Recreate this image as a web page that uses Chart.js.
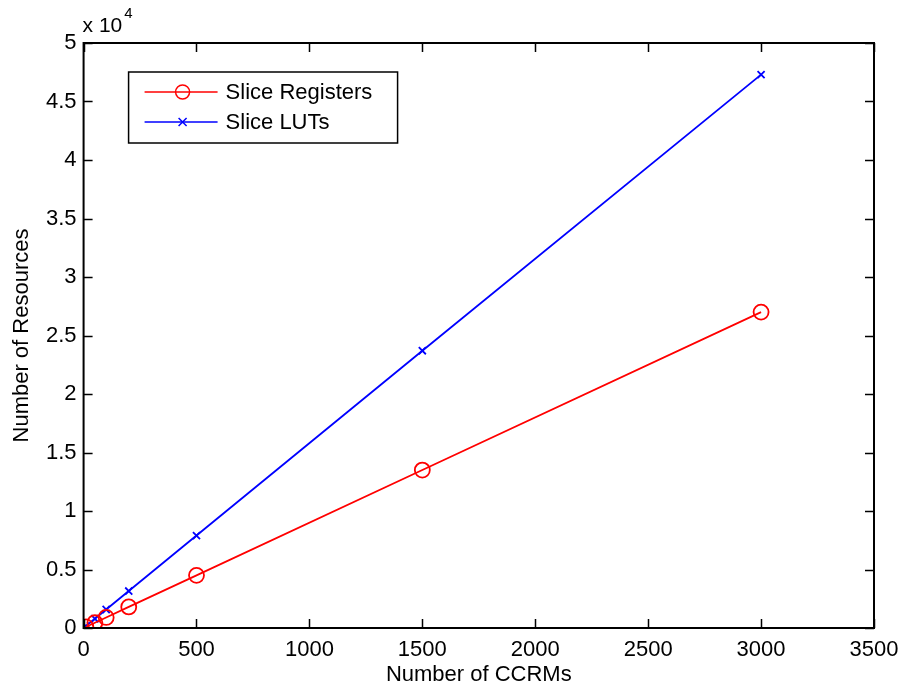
<!DOCTYPE html>
<html>
<head>
<meta charset="utf-8">
<script src="https://cdn.jsdelivr.net/npm/chart.js@4"></script>
<style>
  html, body { margin: 0; padding: 0; background: #fff; }
  #wrap { width: 900px; height: 688px; }
</style>
</head>
<body>
<div id="wrap"><canvas id="c"></canvas></div>
<script>
// CCRM counts and resource usage
const ccrms = [10, 50, 100, 200, 500, 1500, 3000];
const sliceRegisters = [90, 450, 900, 1800, 4500, 13500, 27000];
const sliceLUTs = [158, 790, 1580, 3160, 7900, 23700, 47300];

const xTicks = [0, 500, 1000, 1500, 2000, 2500, 3000, 3500];
const yTicks = [0, 5000, 10000, 15000, 20000, 25000, 30000, 35000, 40000, 45000, 50000];

const FONT = 'Liberation Sans, Arial, sans-serif';
const FS = 22;

function toPoints(xs, ys) {
  return xs.map((x, i) => ({ x: x, y: ys[i] }));
}

// matlab style: closed box, ticks pointing inward, legend box, x10^4 multiplier
const matlabFrame = {
  id: 'matlabFrame',
  afterDraw(chart) {
    const ctx = chart.ctx;
    const a = chart.chartArea;
    const xs = chart.scales.x, ys = chart.scales.y;
    const tl = 9;
    ctx.save();
    ctx.strokeStyle = '#000';
    ctx.lineWidth = 2;
    ctx.strokeRect(a.left, a.top, a.right - a.left, a.bottom - a.top);
    ctx.lineWidth = 1.5;
    ctx.beginPath();
    xTicks.forEach(v => {
      const p = Math.round(xs.getPixelForValue(v)) + 0.5;
      ctx.moveTo(p, a.bottom); ctx.lineTo(p, a.bottom - tl);
      ctx.moveTo(p, a.top); ctx.lineTo(p, a.top + tl);
    });
    yTicks.forEach(v => {
      const p = Math.round(ys.getPixelForValue(v)) + 0.5;
      ctx.moveTo(a.left, p); ctx.lineTo(a.left + tl, p);
      ctx.moveTo(a.right, p); ctx.lineTo(a.right - tl, p);
    });
    ctx.stroke();

    // exponent label
    ctx.fillStyle = '#000';
    ctx.font = '21px ' + FONT;
    ctx.textBaseline = 'alphabetic';
    ctx.textAlign = 'left';
    ctx.fillText('x 10', a.left - 1, a.top - 11);
    const w = ctx.measureText('x 10').width;
    ctx.font = '15px ' + FONT;
    ctx.fillText('4', a.left + w + 1, a.top - 25);

    // legend
    const lx = a.left + 45, ly = a.top + 29, lw = 269, lh = 71;
    ctx.fillStyle = '#fff';
    ctx.fillRect(lx, ly, lw, lh);
    ctx.lineWidth = 1.5;
    ctx.strokeStyle = '#000';
    ctx.strokeRect(lx, ly, lw, lh);
    chart.data.datasets.forEach((ds, i) => {
      const yy = ly + 20 + i * 30;
      ctx.strokeStyle = ds.borderColor;
      ctx.lineWidth = 1.5;
      ctx.beginPath();
      ctx.moveTo(lx + 16, yy); ctx.lineTo(lx + 89, yy);
      ctx.stroke();
      const cx = lx + 54;
      if (ds.pointStyle === 'circle') {
        ctx.beginPath();
        ctx.arc(cx, yy, 7, 0, Math.PI * 2);
        ctx.stroke();
      } else {
        ctx.beginPath();
        ctx.moveTo(cx - 4, yy - 4); ctx.lineTo(cx + 4, yy + 4);
        ctx.moveTo(cx + 4, yy - 4); ctx.lineTo(cx - 4, yy + 4);
        ctx.stroke();
      }
      ctx.fillStyle = '#000';
      ctx.font = FS + 'px ' + FONT;
      ctx.textBaseline = 'middle';
      ctx.fillText(ds.label, lx + 97, yy + 1);
    });
    ctx.restore();
  }
};

new Chart(document.getElementById('c'), {
  type: 'scatter',
  data: {
    datasets: [
      {
        label: 'Slice Registers',
        data: toPoints(ccrms, sliceRegisters),
        showLine: true,
        borderColor: '#ff0000',
        backgroundColor: 'rgba(0,0,0,0)',
        borderWidth: 1.8,
        pointStyle: 'circle',
        pointRadius: 7.5,
        pointBorderWidth: 1.8,
        pointBorderColor: '#ff0000'
      },
      {
        label: 'Slice LUTs',
        data: toPoints(ccrms, sliceLUTs),
        showLine: true,
        borderColor: '#0000ff',
        backgroundColor: 'rgba(0,0,0,0)',
        borderWidth: 1.8,
        pointStyle: 'crossRot',
        pointRadius: 5,
        pointBorderWidth: 1.8,
        pointBorderColor: '#0000ff'
      }
    ]
  },
  options: {
    responsive: true,
    maintainAspectRatio: false,
    animation: false,
    layout: { padding: { top: 43, right: 0, bottom: 0, left: 11 } },
    plugins: {
      legend: { display: false },
      tooltip: { enabled: false }
    },
    scales: {
      x: {
        type: 'linear',
        min: 0,
        max: 3500,
        afterBuildTicks: s => { s.ticks = xTicks.map(v => ({ value: v })); },
        afterFit: s => { s.paddingRight = 26; },
        grid: { display: false, drawTicks: false },
        border: { display: false },
        ticks: { color: '#000', font: { family: FONT, size: FS, lineHeight: 1 }, padding: 11, maxRotation: 0, callback: v => String(v) },
        title: { display: true, text: 'Number of CCRMs', color: '#000', font: { family: FONT, size: FS, lineHeight: 1 }, padding: { top: -8, bottom: 2 } }
      },
      y: {
        min: 0,
        max: 50000,
        afterBuildTicks: s => { s.ticks = yTicks.map(v => ({ value: v })); },
        grid: { display: false, drawTicks: false },
        border: { display: false },
        ticks: {
          color: '#000', font: { family: FONT, size: FS }, padding: 7,
          callback: v => String(v / 10000)
        },
        title: { display: true, text: 'Number of Resources', color: '#000', font: { family: FONT, size: FS, lineHeight: 1 }, padding: { top: 0, bottom: 6 } }
      }
    }
  },
  plugins: [matlabFrame]
});
</script>
</body>
</html>
